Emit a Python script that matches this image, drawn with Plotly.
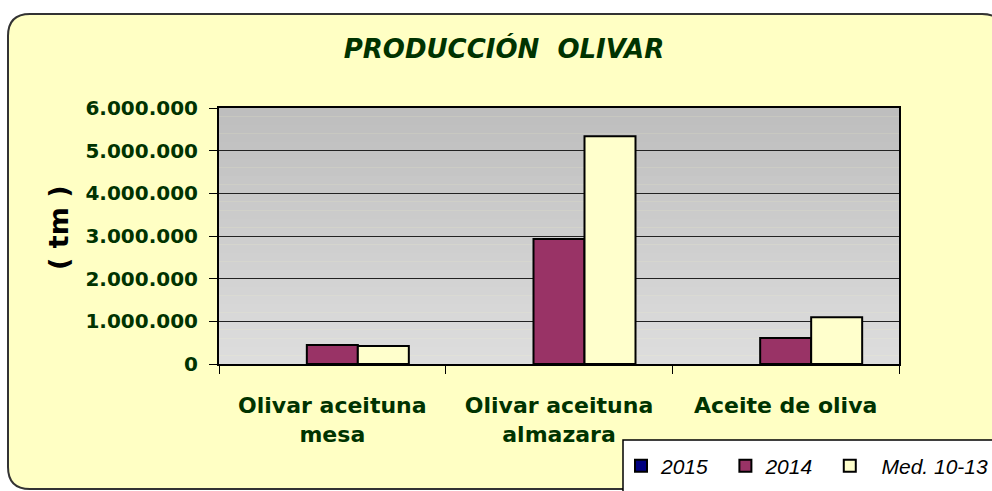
import plotly.graph_objects as go

# ---- data ----
categories = ["Olivar aceituna<br>mesa", "Olivar aceituna<br>almazara", "Aceite de oliva"]
series_names = ["2015", "2014", "Med. 10-13"]
values_2015 = [None, None, None]
values_2014 = [445000, 2930000, 609000]
values_med = [422000, 5336000, 1094000]
y_ticks = [0, 1000000, 2000000, 3000000, 4000000, 5000000, 6000000]
y_tick_labels = ["0", "1.000.000", "2.000.000", "3.000.000", "4.000.000", "5.000.000", "6.000.000"]

colors = ["#000080", "#993366", "#FFFFCC"]
legend_labels = ["<i>2015</i>&nbsp;&nbsp;", "<i>2014</i>&nbsp;&nbsp;", "&nbsp;&nbsp;<i>Med. 10-13</i>"]
W, H = 992, 491
L, R, T, B = 219, 899, 108, 364

def px(x):
    return (x - L) / (R - L)

def py(y):
    return (B - y) / (B - T)

fig = go.Figure()
for name, lab, vals, col in zip(series_names, legend_labels, [values_2015, values_2014, values_med], colors):
    fig.add_trace(go.Bar(
        x=categories, y=vals, name=lab, hovertext=name,
        marker=dict(color=col, line=dict(color="black", width=2)),
    ))

green = "#003300"
shapes = []
# outer rounded frame
r = 22
x0, x1, y0, y1 = 8, 1004, 14, 489
path = (f"M {px(x0+r)},{py(y0)} L {px(x1-r)},{py(y0)} Q {px(x1)},{py(y0)} {px(x1)},{py(y0+r)} "
        f"L {px(x1)},{py(y1-r)} Q {px(x1)},{py(y1)} {px(x1-r)},{py(y1)} "
        f"L {px(x0+r)},{py(y1)} Q {px(x0)},{py(y1)} {px(x0)},{py(y1-r)} "
        f"L {px(x0)},{py(y0+r)} Q {px(x0)},{py(y0)} {px(x0+r)},{py(y0)} Z")
shapes.append(dict(type="path", path=path, xref="paper", yref="paper",
                   fillcolor="#FFFFC4", line=dict(color="#333333", width=2), layer="below"))
# legend box
shapes.append(dict(type="rect", xref="paper", yref="paper",
                   x0=px(623), x1=px(1010), y0=py(440), y1=py(500),
                   fillcolor="white", line=dict(color="black", width=1.5), layer="below"))
# gradient plot background
N = 30
for i in range(N):
    t = i / (N - 1)
    c = int(round(190 + (221 - 190) * t))
    shapes.append(dict(type="rect", xref="x domain", yref="y domain",
                       x0=0, x1=1, y0=1 - (i + 1) / N, y1=1 - i / N + 0.001,
                       fillcolor=f"rgb({c},{c},{c})", line=dict(width=0), layer="below"))

fig.update_layout(
    width=W, height=H,
    margin=dict(l=L, r=W - R, t=T, b=H - B, autoexpand=False),
    paper_bgcolor="white", plot_bgcolor="rgba(0,0,0,0)",
    barmode="group", bargap=0.325, bargroupgap=0,
    shapes=shapes,
    title=dict(text="<b><i>PRODUCCIÓN  OLIVAR</i></b>", x=504 / W, xref="container", xanchor="center",
               y=1 - 49 / H, yref="container", yanchor="middle",
               font=dict(family="DejaVu Sans", size=26, color=green)),
    showlegend=True,
    legend=dict(orientation="h", x=px(621), xanchor="left", y=py(466), yanchor="middle",
                bgcolor="rgba(0,0,0,0)", borderwidth=0,
                font=dict(family="Liberation Sans", size=21, color="black"),
                traceorder="normal"),
    annotations=[dict(text="<b>( tm )</b>", x=px(58), y=py(228), xref="paper", yref="paper",
                      textangle=-90, showarrow=False, xanchor="center", yanchor="middle",
                      font=dict(family="DejaVu Sans", size=27, color="black"))],
)
fig.update_xaxes(
    type="category", showline=True, linecolor="black", linewidth=2, mirror=True,
    ticks="outside", tickson="boundaries", ticklen=8, tickcolor="black", tickwidth=1,
    tickfont=dict(family="DejaVu Sans", size=22, color=green),
    tickvals=categories, ticktext=[f"<b>{c}</b>" for c in categories],
    ticklabelstandoff=21,
    showgrid=False,
)
fig.update_yaxes(
    range=[0, 6000000], showline=True, linecolor="black", linewidth=2, mirror=True,
    ticks="outside", ticklen=8, tickcolor="black", tickwidth=1,
    tickvals=y_ticks, ticktext=[f"<b>{t}</b>" for t in y_tick_labels],
    tickfont=dict(family="DejaVu Sans", size=20, color=green),
    ticklabelstandoff=7,
    showgrid=True, gridcolor="#222222", gridwidth=1, zeroline=False,
)
fig.write_html("out.html", config={"displayModeBar": False},
               post_script="document.body.style.margin='0';document.body.style.overflow='hidden';")
